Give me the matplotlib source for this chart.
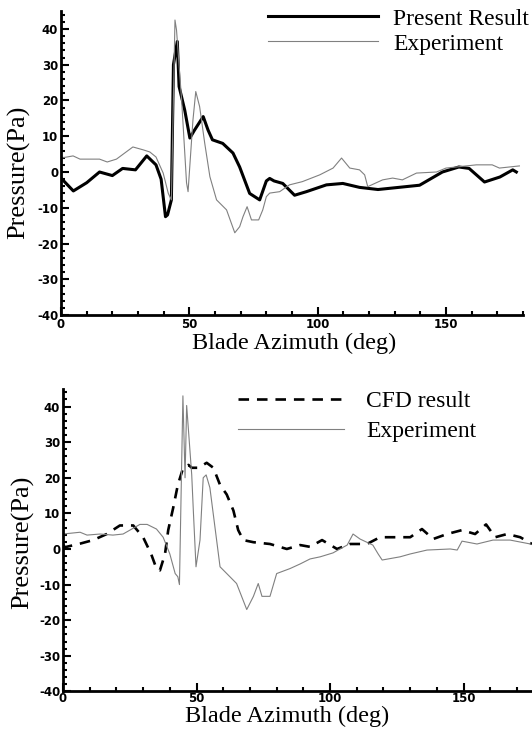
import matplotlib
matplotlib.use("Agg")
import matplotlib.pyplot as plt
from matplotlib.ticker import MultipleLocator

plt.rcParams["axes.unicode_minus"] = False

# top panel: present result vs experiment
top_deg = [0, 4.8, 10, 15, 20, 24, 29, 33.4, 37, 39, 40.7, 41.5, 43, 43.8, 45.3, 46,
           48.2, 50.2, 52, 55.4, 57.3, 59, 63, 67, 69.6, 73.5, 77.4, 80, 81.3, 83,
           86.4, 91, 95.6, 103.4, 109.8, 116.3, 123.5, 139.7, 148.6, 155, 159, 165,
           171, 176, 177.4]
top_present = [-1.7, -5.3, -3, 0, -1, 1, 0.6, 4.5, 2, -2, -12.5, -12, -7.8, 30, 36.5, 23.9,
               17.3, 9.5, 11.7, 15.5, 11.7, 9, 8, 5.3, 1.4, -6, -7.8, -2.5, -1.8, -2.5,
               -3.2, -6.5, -5.5, -3.6, -3.2, -4.3, -4.9, -3.7, 0, 1.4, 1.0, -2.8,
               -1.4, 0.6, 0]

top_exp_deg = [0, 4.7, 7.4, 15, 18, 21.6, 28, 32, 34.6, 37, 39.8, 41.8, 43, 44.4, 45, 47,
               48.9, 49.5, 51.4, 52.5, 54, 56, 58, 60.6, 64.5, 67.7, 69.6, 70.9, 72.5,
               74.2, 77, 78.6, 80, 81.3, 85.2, 89, 94, 100.8, 106, 109.3, 112.5, 116.3,
               118.3, 119.5, 125.3, 129.2, 133, 138.5, 146.3, 150, 154, 161.8, 168,
               170.8, 178.6]
top_exp = [3.9, 4.5, 3.6, 3.6, 2.8, 3.6, 7, 6.2, 5.6, 4.2, -0.3, -6, -7.8, 42.5, 39.7, 20,
           -3, -5.5, 14.5, 22.5, 18.3, 8, -1.3, -7.8, -10.6, -17, -15.3, -12.5, -9.7,
           -13.4, -13.4, -10.6, -6.9, -5.9, -5.5, -3.6, -2.7, -0.8, 1.1, 3.9, 1.1, 0.6,
           -0.8, -4.1, -2.2, -1.7, -2.2, -0.3, 0, 1.1, 1.4, 2, 2, 1.1, 1.7]

# bottom panel: CFD vs experiment
cfd_deg = [0, 0.75, 6.4, 11.3, 16.4, 21.3, 26.3, 30, 33, 35, 36.3, 38.2, 39.4, 41.3, 43,
           45, 47, 48.2, 50.7, 53.8, 56.3, 58.8, 61.3, 63.8, 65.6, 67.5, 71.3, 77.5,
           83.8, 88.8, 92.5, 97, 102.6, 107.5, 113.8, 118.7, 124.3, 130, 134.4, 138.6,
           143.8, 149.4, 154.3, 158.4, 161.8, 166.3, 171.2, 175.6]
cfd = [1.2, 0.5, 1.5, 2.5, 4.2, 6.6, 6.6, 3.3, -1.4, -5.5, -6, -1.4, 5.3, 11.7, 18,
       22.8, 23.6, 22.8, 22.8, 24.2, 22.8, 18, 15.3, 10.8, 5.3, 2.5, 1.9, 1.4,
       0, 1.1, 0.6, 2.5, 0, 1.4, 1.4, 3.3, 3.3, 3.3, 5.6, 2.8,
       4.2, 5.3, 4.2, 6.9, 3.3, 4.2, 3.3, 1.4]

bot_exp_deg = [0, 6.4, 9, 13.9, 18.7, 22.5, 28.8, 31.5, 35, 37.5, 40, 42, 43, 43.6, 44.9,
               45.7, 46.3, 48.2, 48.8, 49.8, 51.3, 52.5, 53.6, 55, 56.9, 58.8, 62.5, 65,
               68.8, 71.3, 73.1, 74.5, 77.5, 80, 85, 88.8, 92.5, 96.3, 101.1, 103.7,
               106.4, 108.6, 111.2, 116, 118, 119.5, 126.2, 130, 136.3, 145, 147.6,
               149.4, 155, 161, 167.4, 175]
bot_exp = [4.2, 4.7, 3.9, 4.2, 3.9, 4.2, 6.9, 6.9, 5.6, 3.3, -1.4, -6.9, -7.8, -10, 43,
           20, 40.3, 20.8, 10.8, -5, 2.5, 20, 20.8, 17.2, 6.1, -5, -7.8, -9.7,
           -17, -13.3, -9.7, -13.3, -13.3, -6.9, -5.5, -4.2, -2.8, -2.2, -1.1, 0,
           1.1, 4.2, 2.8, 1.1, -1.4, -3.1, -2.2, -1.4, -0.3, 0, -0.3,
           2.2, 1.4, 2.5, 2.5, 1.4]

serif = "Liberation Serif"

fig = plt.figure(figsize=(5.32, 7.34), dpi=100)
ax1 = fig.add_axes([0.1147, 0.5708, 0.8684, 0.4141])
ax2 = fig.add_axes([0.1184, 0.058, 0.8816, 0.4124])


def style(ax, xmax, xpad):
    ax.set_xlim(0, xmax)
    ax.set_ylim(-40, 45)
    for s in ["top", "right"]:
        ax.spines[s].set_visible(False)
    for s in ["left", "bottom"]:
        ax.spines[s].set_linewidth(2)
    ax.xaxis.set_major_locator(MultipleLocator(50))
    ax.xaxis.set_minor_locator(MultipleLocator(10))
    ax.yaxis.set_minor_locator(MultipleLocator(2))
    ax.set_yticks(range(-40, 41, 10))
    ax.tick_params(which="both", direction="in", width=1.5)
    ax.tick_params(which="major", length=6)
    ax.tick_params(which="minor", length=3)
    ax.tick_params(axis="y", pad=2)
    ax.tick_params(axis="x", pad=xpad)
    for lab in ax.get_xticklabels() + ax.get_yticklabels():
        lab.set_fontfamily("DejaVu Sans")
        lab.set_fontweight("bold")
        lab.set_fontsize(8.5)
    ax.set_xlabel("Blade Azimuth (deg)", fontfamily=serif, fontsize=17.5, va="top")
    ax.set_ylabel("Pressure(Pa)", fontfamily=serif, fontsize=19)


ax1.plot(top_deg, top_present, color="black", lw=2.2, label="Present Result")
ax1.plot(top_exp_deg, top_exp, color="0.5", lw=0.8, label="Experiment")
style(ax1, 180, 2)
ax1.xaxis.set_label_coords(0.504, -0.058)
ax1.yaxis.set_label_coords(-0.066, 0.47)
ax1.legend(loc="upper left", bbox_to_anchor=(0.504, 0.989), bbox_transform=fig.transFigure,
           frameon=False, borderpad=0, borderaxespad=0, handlelength=4.66,
           handletextpad=0.64, labelspacing=0.15, prop={"family": serif, "size": 17})

ax2.plot(cfd_deg, cfd, color="black", lw=1.9, dashes=(4, 3), label="CFD result")
ax2.plot(bot_exp_deg, bot_exp, color="0.5", lw=0.8, label="Experiment")
style(ax2, 175.6, 0.5)
ax2.xaxis.set_label_coords(0.477, -0.046)
ax2.yaxis.set_label_coords(-0.062, 0.494)
ax2.legend(loc="upper left", bbox_to_anchor=(0.447, 0.468), bbox_transform=fig.transFigure,
           frameon=False, borderpad=0, borderaxespad=0, handlelength=4.5,
           handletextpad=0.93, labelspacing=0.35, prop={"family": serif, "size": 17})

fig.savefig("out.png", dpi=100)
